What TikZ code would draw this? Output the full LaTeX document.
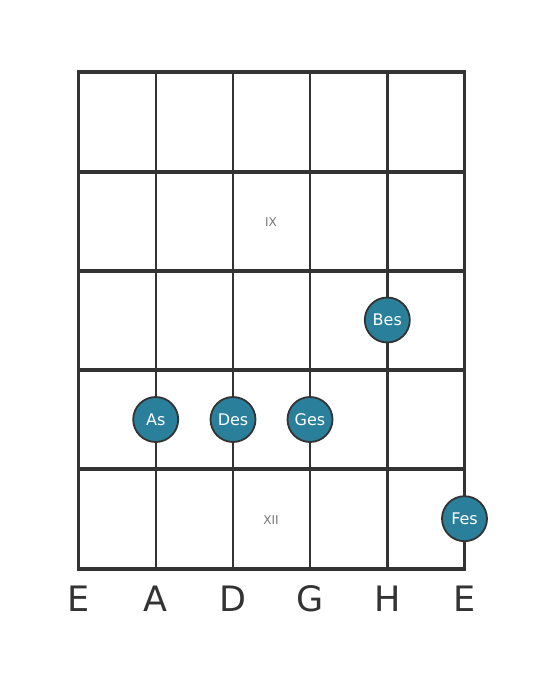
\documentclass[tikz,border=0pt]{standalone}
\usepackage{fontspec}
\setmainfont{DejaVu Sans}
\definecolor{ln}{HTML}{333333}
\definecolor{dot}{HTML}{2A7F9A}
\definecolor{roman}{HTML}{777777}
\begin{document}
\begin{tikzpicture}[x=1pt,y=-1pt,
  stringline/.style={draw=ln,line width=2.4pt},
  fretline/.style={draw=ln,line width=4pt},
  notedot/.style={circle,draw=ln,line width=1.8pt,fill=dot,minimum size=45pt,inner sep=0pt,text=white,font=\fontsize{16}{16}\selectfont},
  strlabel/.style={text=ln,font=\fontsize{35}{35}\selectfont},
  romanlabel/.style={text=roman,font=\fontsize{12}{12}\selectfont}]
\useasboundingbox (0,0) rectangle (559,682);
\fill[white] (0,0) rectangle (559,682);
% strings
\foreach \i/\x in {1/78.5,2/155.7,3/233,4/310,5/387.3,6/464.5}{
  \coordinate (st\i) at (\x,72.5);
  \coordinate (sb\i) at (\x,568.5);
  \draw[stringline] (st\i) -- (sb\i);
}
% frets
\foreach \j/\y in {0/72.5,1/171.5,2/270.7,3/370,4/469,5/568.5}{
  \coordinate (fl\j) at (77,\y);
  \coordinate (fr\j) at (466,\y);
  \draw[fretline] (fl\j) -- (fr\j);
}
\node[romanlabel] (ix) at (271,222) {IX};
\node[romanlabel] (xii) at (271,520) {XII};
\node[notedot] (bes) at (387.3,320) {Bes};
\node[notedot] (as) at (155.7,419.5) {As};
\node[notedot] (des) at (233,419.5) {Des};
\node[notedot] (ges) at (310,419.5) {Ges};
\node[notedot] (fes) at (464.5,518.7) {Fes};
\node[strlabel] (l1) at (78.5,599) {E};
\node[strlabel] (l2) at (155.7,599) {A};
\node[strlabel] (l3) at (233,599) {D};
\node[strlabel] (l4) at (310,599) {G};
\node[strlabel] (l5) at (387.3,599) {H};
\node[strlabel] (l6) at (464.5,599) {E};
\end{tikzpicture}
\end{document}
